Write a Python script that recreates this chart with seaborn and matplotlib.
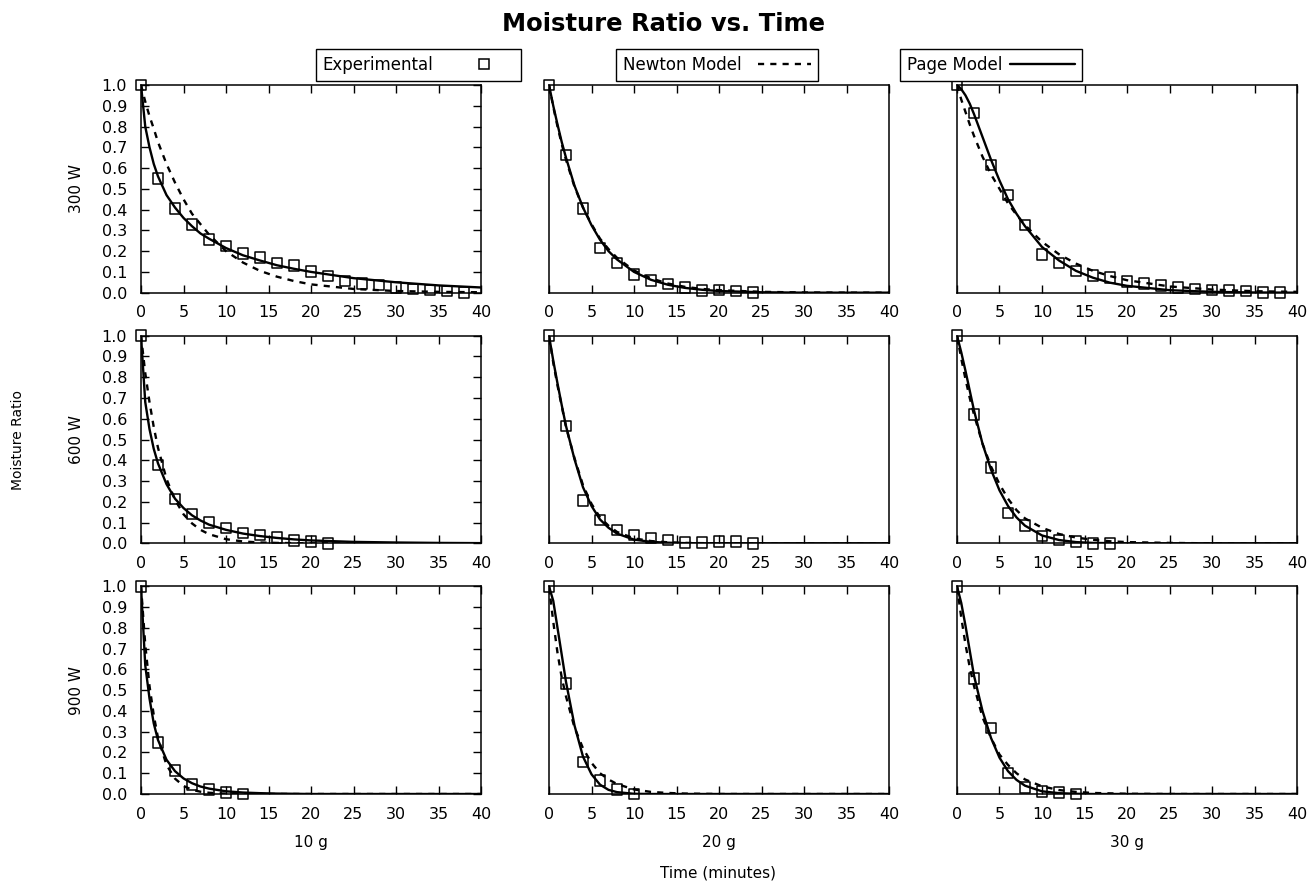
import numpy as np
import pandas as pd
import matplotlib
matplotlib.use("Agg")
import matplotlib.pyplot as plt
from matplotlib.lines import Line2D
import seaborn as sns

# ---- data ----
powers = ["300 W", "600 W", "900 W"]
masses = ["10 g", "20 g", "30 g"]

# experimental points (minutes, moisture ratio)
exp_t_300_10 = [0, 2, 4, 6, 8, 10, 12, 14, 16, 18, 20, 22, 24, 26, 28, 30, 32, 34, 36, 38]
exp_mr_300_10 = [1.0, 0.55, 0.406, 0.328, 0.256, 0.225, 0.19, 0.17, 0.142, 0.13, 0.102, 0.081,
                 0.057, 0.044, 0.037, 0.024, 0.018, 0.013, 0.008, 0.002]
exp_t_300_20 = [0, 2, 4, 6, 8, 10, 12, 14, 16, 18, 20, 22, 24]
exp_mr_300_20 = [1.0, 0.663, 0.406, 0.215, 0.142, 0.087, 0.06, 0.042, 0.024, 0.011, 0.013, 0.008, 0.002]
exp_t_300_30 = [0, 2, 4, 6, 8, 10, 12, 14, 16, 18, 20, 22, 24, 26, 28, 30, 32, 34, 36, 38]
exp_mr_300_30 = [1.0, 0.866, 0.615, 0.471, 0.325, 0.183, 0.142, 0.105, 0.083, 0.073, 0.053, 0.045,
                 0.034, 0.024, 0.018, 0.013, 0.011, 0.008, 0.002, 0.002]
exp_t_600_10 = [0, 2, 4, 6, 8, 10, 12, 14, 16, 18, 20, 22]
exp_mr_600_10 = [1.0, 0.377, 0.214, 0.141, 0.1, 0.073, 0.049, 0.04, 0.028, 0.013, 0.008, 0.0]
exp_t_600_20 = [0, 2, 4, 6, 8, 10, 12, 14, 16, 18, 20, 22, 24]
exp_mr_600_20 = [1.0, 0.566, 0.207, 0.113, 0.065, 0.04, 0.026, 0.016, 0.005, 0.005, 0.008, 0.008, 0.0]
exp_t_600_30 = [0, 2, 4, 6, 8, 10, 12, 14, 16, 18]
exp_mr_600_30 = [1.0, 0.62, 0.364, 0.146, 0.086, 0.036, 0.016, 0.008, 0.0, 0.0]
exp_t_900_10 = [0, 2, 4, 6, 8, 10, 12]
exp_mr_900_10 = [1.0, 0.249, 0.113, 0.045, 0.021, 0.008, 0.0]
exp_t_900_20 = [0, 2, 4, 6, 8, 10]
exp_mr_900_20 = [1.0, 0.531, 0.154, 0.066, 0.021, 0.0]
exp_t_900_30 = [0, 2, 4, 6, 8, 10, 12, 14]
exp_mr_900_30 = [1.0, 0.555, 0.317, 0.102, 0.032, 0.013, 0.008, 0.0]

# model curves, read at these times
model_t = [0, 0.5, 1, 1.5, 2, 3, 4, 5, 6, 7, 8, 10, 12, 14, 16, 18, 20, 25, 30, 35, 40]

newton_300_10 = [1, .92, .85, .79, .725, .62, .53, .45, .38, .33, .28, .2, .145, .105, .077, .056, .04, .018, .008, .004, .002]
page_300_10 = [1, .8, .7, .62, .56, .47, .41, .36, .32, .285, .26, .215, .18, .155, .132, .115, .1, .07, .05, .035, .025]
newton_300_20 = [1, .895, .8, .715, .64, .51, .41, .33, .26, .21, .168, .107, .069, .044, .028, .018, .012, .004, .001, 0, 0]
page_300_20 = [1, .9, .81, .725, .65, .515, .41, .325, .255, .2, .16, .1, .062, .038, .023, .014, .008, .002, 0, 0, 0]
newton_300_30 = [1, .93, .87, .81, .755, .655, .57, .5, .43, .375, .325, .245, .185, .14, .105, .08, .06, .03, .015, .007, .004]
page_300_30 = [1, .98, .95, .91, .86, .75, .64, .54, .45, .38, .32, .22, .155, .105, .072, .048, .033, .012, .004, .001, 0]
newton_600_10 = [1, .82, .68, .56, .46, .31, .21, .14, .096, .065, .044, .02, .009, .004, .002, .001, 0, 0, 0, 0, 0]
page_600_10 = [1, .68, .55, .455, .385, .285, .215, .17, .135, .11, .09, .065, .047, .035, .026, .019, .014, .007, .004, .002, .001]
newton_600_20 = [1, .87, .76, .66, .56, .41, .28, .19, .125, .085, .055, .024, .011, .005, .002, .001, 0, 0, 0, 0, 0]
page_600_20 = [1, .88, .77, .665, .565, .405, .27, .18, .115, .075, .047, .018, .007, .003, .001, 0, 0, 0, 0, 0, 0]
newton_600_30 = [1, .89, .79, .7, .62, .48, .37, .285, .215, .16, .12, .075, .045, .028, .017, .01, .006, .002, 0, 0, 0]
page_600_30 = [1, .92, .83, .735, .64, .48, .355, .255, .18, .125, .085, .038, .016, .006, .002, .001, 0, 0, 0, 0, 0]
newton_900_10 = [1, .72, .52, .38, .27, .14, .074, .039, .02, .011, .006, .0015, 0, 0, 0, 0, 0, 0, 0, 0, 0]
page_900_10 = [1, .62, .46, .34, .26, .165, .11, .075, .052, .036, .026, .013, .007, .004, .002, .001, 0, 0, 0, 0, 0]
newton_900_20 = [1, .83, .68, .56, .47, .32, .22, .15, .1, .07, .048, .022, .01, .005, .002, .001, 0, 0, 0, 0, 0]
page_900_20 = [1, .93, .8, .67, .54, .33, .18, .095, .045, .02, .009, .001, 0, 0, 0, 0, 0, 0, 0, 0, 0]
newton_900_30 = [1, .85, .72, .61, .52, .37, .27, .19, .14, .1, .07, .037, .019, .01, .005, .003, .001, 0, 0, 0, 0]
page_900_30 = [1, .92, .81, .69, .57, .4, .27, .175, .11, .068, .04, .013, .004, .001, 0, 0, 0, 0, 0, 0, 0]

exp_t = [[exp_t_300_10, exp_t_300_20, exp_t_300_30],
         [exp_t_600_10, exp_t_600_20, exp_t_600_30],
         [exp_t_900_10, exp_t_900_20, exp_t_900_30]]
exp_mr = [[exp_mr_300_10, exp_mr_300_20, exp_mr_300_30],
          [exp_mr_600_10, exp_mr_600_20, exp_mr_600_30],
          [exp_mr_900_10, exp_mr_900_20, exp_mr_900_30]]
newton = [[newton_300_10, newton_300_20, newton_300_30],
          [newton_600_10, newton_600_20, newton_600_30],
          [newton_900_10, newton_900_20, newton_900_30]]
page = [[page_300_10, page_300_20, page_300_30],
        [page_600_10, page_600_20, page_600_30],
        [page_900_10, page_900_20, page_900_30]]

sns.set_style("ticks")
plt.rcParams['font.family'] = ['DejaVu Sans']
plt.rcParams['text.color'] = 'black'
plt.rcParams['axes.labelcolor'] = 'black'
plt.rcParams['xtick.color'] = 'black'
plt.rcParams['ytick.color'] = 'black'

W, H = 1312, 883
fig, axes = plt.subplots(3, 3, figsize=(W / 100, H / 100), dpi=100)
fig.subplots_adjust(left=141 / W, right=1297 / W, top=1 - 85 / H, bottom=1 - 794 / H,
                    wspace=0.2, hspace=0.207)

dash = (2.6, 2.6)

for i in range(3):
    for j in range(3):
        ax = axes[i][j]
        curves = pd.DataFrame({'t': model_t, 'newton': newton[i][j], 'page': page[i][j]})
        sns.lineplot(data=curves, x='t', y='newton', ax=ax, color='black', lw=1.7,
                     linestyle=(0, dash), estimator=None, sort=False)
        sns.lineplot(data=curves, x='t', y='page', ax=ax, color='black', lw=1.7,
                     estimator=None, sort=False)
        pts = pd.DataFrame({'t': exp_t[i][j], 'mr': exp_mr[i][j]})
        sns.scatterplot(data=pts, x='t', y='mr', ax=ax, marker='s', s=58,
                        facecolor='none', edgecolor='black', linewidth=1.1,
                        clip_on=False, zorder=5)

        ax.set_xlim(0, 40)
        ax.set_ylim(0, 1)
        ax.set_xticks(range(0, 41, 5))
        ax.set_xlabel('')
        ax.set_ylabel('')
        for sp in ax.spines.values():
            sp.set_visible(True)
            sp.set_linewidth(1.1)
            sp.set_color('black')
        ax.tick_params(axis='x', direction='in', top=True, bottom=True, length=6,
                       width=1, pad=9, labelsize=11.5)
        if j == 0:
            ax.set_yticks(np.round(np.arange(0, 1.01, 0.1), 1))
            ax.set_yticklabels([f"{v:.1f}" for v in np.arange(0, 1.01, 0.1)])
            ax.tick_params(axis='y', direction='in', left=True, right=True, length=6,
                           width=1, pad=10, labelsize=11.5)
            ax.set_ylabel(powers[i], fontsize=11, labelpad=13)
        else:
            ax.set_yticks([])
        if i == 2:
            ax.set_xlabel(masses[j], fontsize=11, labelpad=10)

fig.text(664 / W, 1 - 24 / H, "Moisture Ratio vs. Time", ha='center', va='center',
         fontsize=17.5, fontweight='bold')
fig.text(18 / W, 1 - 440 / H, "Moisture Ratio", rotation=90, ha='center', va='center',
         fontsize=10)
fig.text(718 / W, 1 - 873 / H, "Time (minutes)", ha='center', va='center', fontsize=11)

# three separate key boxes along the top
h_exp = Line2D([], [], marker='s', linestyle='', markerfacecolor='none',
               markeredgecolor='black', markersize=7.5, markeredgewidth=1.1)
h_newton = Line2D([], [], color='black', lw=1.7, linestyle=(0, dash))
h_page = Line2D([], [], color='black', lw=1.7)

keys = [(h_exp, "Experimental", 418.5, 3.7, 1.2),
        (h_newton, "Newton Model", 717, 3.2, 1.0),
        (h_page, "Page Model", 991, 3.9, 0.5)]
for handle, label, cx, hl, hp in keys:
    leg = fig.legend(handles=[handle], labels=[label], loc='center',
                     bbox_to_anchor=(cx / W, 1 - 65 / H), markerfirst=False,
                     fontsize=12, frameon=True, fancybox=False, framealpha=1,
                     edgecolor='black', borderpad=0.4, handlelength=hl,
                     handletextpad=hp, borderaxespad=0)
    leg.get_frame().set_linewidth(1.0)

fig.savefig("out.png", dpi=100)
